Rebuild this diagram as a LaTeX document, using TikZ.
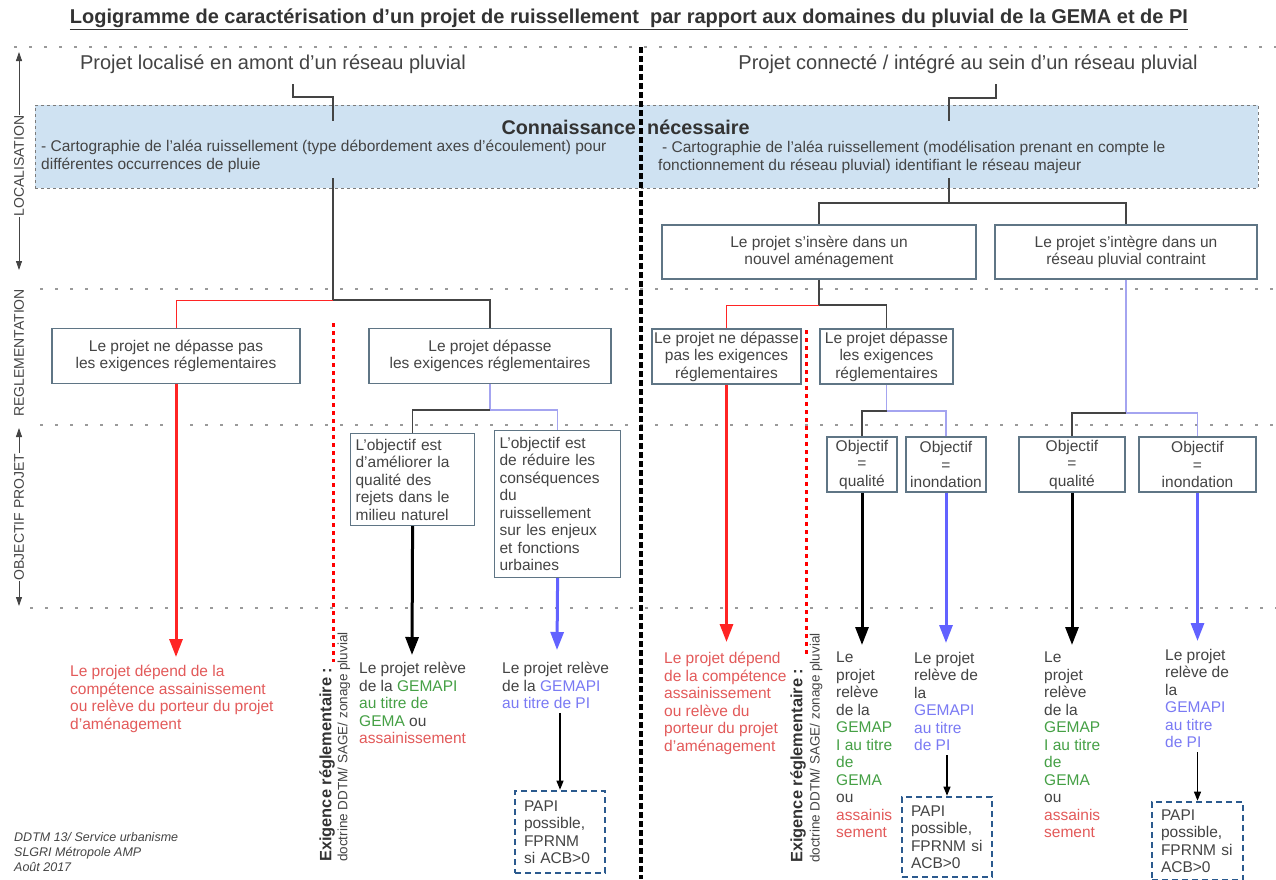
\documentclass[tikz,border=0pt]{standalone}
\usepackage{fontspec}
\setmainfont{Liberation Sans}
\usetikzlibrary{arrows.meta}
\definecolor{txt}{HTML}{444444}
\definecolor{ttl}{HTML}{333333}
\definecolor{boxc}{HTML}{5F7585}
\definecolor{redt}{HTML}{E35A5A}
\definecolor{redl}{HTML}{FF2424}
\definecolor{grn}{HTML}{45A045}
\definecolor{pur}{HTML}{7A7AF4}
\definecolor{purl}{HTML}{6262FF}
\definecolor{purthin}{HTML}{A4A4F0}
\definecolor{papi}{HTML}{2B5A8E}
\definecolor{bluef}{HTML}{CFE2F2}
\definecolor{dotc}{HTML}{9A9A9A}
\newcommand\bodyf{\fontsize{15.5}{17.5}\selectfont}
\newcommand\kbtxt{\fontsize{15.5}{18}\selectfont}
\tikzset{
  bx/.style={draw=boxc, line width=1.2pt, fill=white, inner sep=2pt, align=center, font=\bodyf, text=txt},
  lbx/.style={draw=boxc, line width=1.2pt, fill=white, inner sep=4pt, align=left, font=\bodyf, text=txt, anchor=north west},
  papibox/.style={draw=papi, line width=2.6pt, dash pattern=on 6pt off 4pt, inner sep=5pt, align=left, font=\bodyf, text=txt},
  dotline/.style={dotc, line width=2.6pt, dash pattern=on 2.6pt off 12.4pt},
  reddot/.style={red, line width=3pt, dash pattern=on 4pt off 4pt},
  conn/.style={draw=txt, line width=1.3pt},
  redconn/.style={draw=redl, line width=1pt},
  purconn/.style={draw=purthin, line width=1.2pt},
  bigarrow/.style={line width=3pt, -{Triangle[length=18pt,width=13pt]}},
  thinarrow/.style={line width=1.1pt, draw=black, -{Triangle[length=9pt,width=7pt]}},
  body/.style={font=\bodyf, text=txt, align=left, anchor=north west, inner sep=0pt},
  axl/.style={rotate=90, font=\fontsize{14}{15}\selectfont, text=txt, fill=white, inner sep=1pt},
  axarr/.style={draw=txt, line width=0.8pt, {Triangle[length=9pt,width=6pt]}-{Triangle[length=9pt,width=6pt]}},
  exb/.style={rotate=90, anchor=west, font=\fontsize{16.4}{18}\selectfont\bfseries, text=ttl, inner sep=0pt},
  exs/.style={rotate=90, anchor=west, font=\fontsize{13.5}{15}\selectfont, text=txt, inner sep=0pt}
}
\begin{document}
\begin{tikzpicture}[x=1pt,y=-1pt]
\useasboundingbox (0,0) rectangle (1276,879);
\fill[white] (0,0) rectangle (1276,879);

% title
\node[font=\fontsize{20}{22}\selectfont\bfseries, text=ttl] (title) at (629,19)
  {\underline{Logigramme de caractérisation d’un projet de ruissellement\ \ par rapport aux domaines du pluvial de la GEMA et de PI}};

% dotted horizontal lines
\coordinate (d1a) at (14,47); \coordinate (d1b) at (1276,47);
\coordinate (d2a) at (40,289); \coordinate (d2b) at (1276,289);
\coordinate (d3a) at (40,425); \coordinate (d3b) at (1276,425);
\coordinate (d4a) at (30,608); \coordinate (d4b) at (1276,608);
\draw[dotline] (d1a) -- (d1b);
\draw[dotline] (d2a) -- (d2b);
\draw[dotline] (d3a) -- (d3b);
\draw[dotline] (d4a) -- (d4b);

% left axis
\coordinate (ax1) at (19,52); \coordinate (ax2) at (19,270);
\draw[axarr] (ax1) -- (ax2);
\node[axl] (loc) at (19,166) {LOCALISATION};
\node[axl] (reg) at (19,353) {REGLEMENTATION};
\coordinate (ax3) at (19,428); \coordinate (ax4) at (19,606);
\draw[axarr] (ax3) -- (ax4);
\node[axl] (obj) at (19,517) {OBJECTIF PROJET};

% headings
\node[font=\fontsize{20}{22}\selectfont, text=txt] (hl) at (273,64) {Projet localisé en amont d'un réseau pluvial};
\node[font=\fontsize{20}{22}\selectfont, text=txt] (hr) at (968,64) {Projet connecté / intégré au sein d'un réseau pluvial};

% knowledge box
\node[draw=dotc!80!black, dashed, line width=0.9pt, fill=bluef, minimum width=1223pt, minimum height=83pt, inner sep=0pt] (know) at (646.5,146.5) {};
\node[anchor=east, font=\fontsize{19.8}{21}\selectfont\bfseries, text=ttl, inner sep=0pt] (kn1) at (636,127) {Connaissance};
\node[anchor=west, font=\fontsize{19.8}{21}\selectfont\bfseries, text=ttl, inner sep=0pt] (kn2) at (647,127) {nécessaire};
\node[anchor=north west, align=left, font=\kbtxt, text=txt, inner sep=0pt] (kl) at (41,140)
  {- Cartographie de l'aléa ruissellement (type débordement axes d'écoulement) pour\\différentes occurrences de pluie};
\node[anchor=north west, align=left, font=\kbtxt, text=txt, inner sep=0pt] (kr) at (658,141)
  {\hspace*{4pt}- Cartographie de l'aléa ruissellement (modélisation prenant en compte le\\fonctionnement du réseau pluvial) identifiant le réseau majeur};

% top connectors
\coordinate (cla) at (293,84); \coordinate (clb) at (333,121);
\draw[conn] (cla) -- ++(0,13) -| (clb);
\coordinate (cra) at (996,84); \coordinate (crb) at (949,121);
\draw[conn] (cra) -- ++(0,14) -| (crb);

% divider
\coordinate (dva) at (641,47); \coordinate (dvb) at (641,879);
\draw[black, line width=3.2pt, dash pattern=on 6pt off 3pt] (dva) -- (dvb);

% ---------- left side ----------
\node[bx, minimum width=248pt, minimum height=55pt] (A) at (176,356)
  {Le projet ne dépasse pas\\les exigences réglementaires};
\node[bx, minimum width=242pt, minimum height=55pt] (B) at (490,356)
  {Le projet dépasse\\les exigences réglementaires};
\coordinate (tl) at (333,178); \coordinate (bl) at (333,300);
\draw[conn] (tl) -- (bl);
\draw[redconn] (bl) -| (A.north);
\draw[conn] (bl) -| (B.north);

\coordinate (rda) at (333,323); \coordinate (rdb) at (333,662);
\draw[reddot] (rda) -- (rdb);

\node[lbx, minimum width=124pt, minimum height=92pt, text width=114pt] (C) at (350,433)
  {L'objectif est\\d'améliorer la\\qualité des\\rejets dans le\\milieu naturel};
\node[lbx, minimum width=126pt, minimum height=147pt, text width=116pt] (D) at (494,430)
  {L'objectif est\\de réduire les\\conséquences\\du\\ruissellement\\sur les enjeux\\et fonctions\\urbaines};
\coordinate (jb) at (490,410);
\draw[purconn] (B.south) -- (jb);
\draw[conn] (jb) -| (C.north);
\draw[purconn] (jb) -| (D.north);

\coordinate (ra) at (176,657);
\draw[bigarrow, redl] (A.south) -- (ra);
\coordinate (ca) at (412,655);
\draw[bigarrow, black] (C.south) -- (ca);
\coordinate (da) at (557,650);
\draw[bigarrow, purl] (D.south) -- (da);

\node[body, text=redt] (tA) at (70,665)
  {Le projet dépend de la\\compétence assainissement\\ou relève du porteur du projet\\d'aménagement};
\node[exb] (ex1) at (327,862) {Exigence réglementaire :};
\node[exs] (ex2) at (344,862) {doctrine DDTM/ SAGE/ zonage pluvial};
\node[body] (tC) at (359,662)
  {Le projet relève\\de la \textcolor{grn}{GEMAPI}\\\textcolor{grn}{au titre de}\\\textcolor{grn}{GEMA} ou\\\textcolor{redt}{assainissement}};
\node[body] (tD) at (502,662)
  {Le projet relève\\de la \textcolor{pur}{GEMAPI}\\\textcolor{pur}{au titre de PI}};
\node[papibox, minimum width=90pt, minimum height=82pt, text width=72pt] (pD) at (560,832)
  {PAPI\\possible,\\FPRNM\\si ACB>0};
\draw[thinarrow] (tD.south -| pD.north) ++(0,4) -- (pD.north);

\node[font=\fontsize{12.5}{15}\selectfont\itshape, text=txt, align=left, anchor=north west, inner sep=0pt] (src) at (14,832)
  {DDTM 13/ Service urbanisme\\SLGRI Métropole AMP\\Août 2017};

% ---------- right side ----------
\node[bx, minimum width=314pt, minimum height=54pt] (E) at (819,252)
  {Le projet s'insère dans un\\nouvel aménagement};
\node[bx, minimum width=262pt, minimum height=54pt] (F) at (1126,252)
  {Le projet s'intègre dans un\\réseau pluvial contraint};
\coordinate (tr) at (949,178); \coordinate (br) at (949,203);
\draw[conn] (tr) -- (br);
\draw[conn] (br) -| (E.north);
\draw[conn] (br) -| (F.north);

\node[bx, minimum width=149pt, minimum height=55pt, inner sep=0pt] (G) at (726.5,356.5)
  {Le projet ne dépasse\\pas les exigences\\réglementaires};
\node[bx, minimum width=133pt, minimum height=55pt, inner sep=0pt] (H) at (886.5,356.5)
  {Le projet dépasse\\les exigences\\réglementaires};
\coordinate (je) at (819,305);
\draw[conn] (E.south) -- (je);
\draw[redconn] (je) -| (G.north);
\draw[conn] (je) -| (H.north);

\coordinate (rdc) at (806,330); \coordinate (rdd) at (806,655);
\draw[reddot] (rdc) -- (rdd);

\node[bx, minimum width=70pt, minimum height=55pt, inner sep=0pt] (I) at (862,464.5) {Objectif\\=\\qualité};
\node[bx, minimum width=80pt, minimum height=55pt, inner sep=0pt] (J) at (946,464.5) {Objectif\\=\\inondation};
\coordinate (jh) at (886.5,411);
\draw[purconn] (H.south) -- (jh);
\draw[conn] (jh) -| (I.north);
\draw[purconn] (jh) -| (J.north);

\node[bx, minimum width=106pt, minimum height=55pt, inner sep=0pt] (K) at (1072,464.5) {Objectif\\=\\qualité};
\node[bx, minimum width=117pt, minimum height=55pt, inner sep=0pt] (L) at (1197.5,464.5) {Objectif\\=\\inondation};
\coordinate (jf) at (1126,413);
\draw[purconn] (F.south) -- (jf);
\draw[conn] (jf) -| (K.north);
\draw[purconn] (jf) -| (L.north);

\coordinate (ga) at (726.5,642);
\draw[bigarrow, redl] (G.south) -- (ga);
\coordinate (ia) at (862,645);
\draw[bigarrow, black] (I.south) -- (ia);
\coordinate (ja) at (946,643);
\draw[bigarrow, purl] (J.south) -- (ja);
\coordinate (ka) at (1072,645);
\draw[bigarrow, black] (K.south) -- (ka);
\coordinate (la) at (1197.5,641);
\draw[bigarrow, purl] (L.south) -- (la);

\node[body, text=redt] (tG) at (664,652)
  {Le projet dépend\\de la compétence\\assainissement\\ou relève du\\porteur du projet\\d'aménagement};
\node[exb] (ex3) at (798,863) {Exigence réglementaire :};
\node[exs] (ex4) at (816,863) {doctrine DDTM/ SAGE/ zonage pluvial};

\node[body] (tI) at (836,652)
  {Le\\projet\\relève\\de la\\\textcolor{grn}{GEMAP}\\\textcolor{grn}{I au titre}\\\textcolor{grn}{de}\\\textcolor{grn}{GEMA}\\ou\\\textcolor{redt}{assainis}\\\textcolor{redt}{sement}};
\node[body] (tJ) at (914,652)
  {Le projet\\relève de\\la\\\textcolor{pur}{GEMAPI}\\\textcolor{pur}{au titre}\\\textcolor{pur}{de PI}};
\node[papibox, minimum width=90pt, minimum height=80pt, text width=72pt] (pJ) at (947,837)
  {PAPI\\possible,\\FPRNM si\\ACB>0};
\draw[thinarrow] (tJ.south -| pJ.north) ++(0,4) -- (pJ.north);

\node[body] (tK) at (1044,652)
  {Le\\projet\\relève\\de la\\\textcolor{grn}{GEMAP}\\\textcolor{grn}{I au titre}\\\textcolor{grn}{de}\\\textcolor{grn}{GEMA}\\ou\\\textcolor{redt}{assainis}\\\textcolor{redt}{sement}};
\node[body] (tL) at (1165,649)
  {Le projet\\relève de\\la\\\textcolor{pur}{GEMAPI}\\\textcolor{pur}{au titre}\\\textcolor{pur}{de PI}};
\node[papibox, minimum width=91pt, minimum height=78pt, text width=73pt] (pL) at (1197.5,841)
  {PAPI\\possible,\\FPRNM si\\ACB>0};
\draw[thinarrow] (tL.south -| pL.north) ++(0,4) -- (pL.north);
\end{tikzpicture}
\end{document}
